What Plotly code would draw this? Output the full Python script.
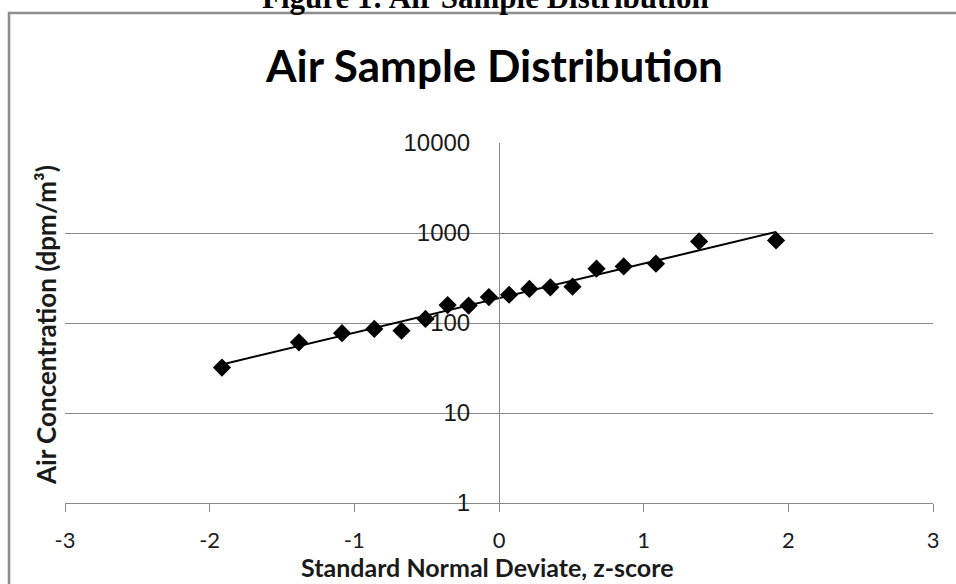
import numpy as np
import plotly.graph_objects as go

# ---- data ----
z_scores = [-1.915, -1.383, -1.085, -0.862, -0.674, -0.508, -0.355, -0.210, -0.070,
            0.070, 0.210, 0.355, 0.508, 0.674, 0.862, 1.085, 1.383, 1.915]
concentrations = [32, 61, 77, 86, 82, 111, 158, 156, 194,
                  206, 239, 249, 253, 401, 425, 456, 807, 827]
x_ticks = [-3, -2, -1, 0, 1, 2, 3]
x_tick_labels = ["-3", "-2", "-1", "0", "1", "2", "3"]
y_ticks = [1, 10, 100, 1000, 10000]
y_tick_labels = ["1", "10", "100", "1000", "10000"]

chart_title = "Air Sample Distribution"
figure_caption = "Figure 1: Air Sample Distribution"
x_title = "Standard Normal Deviate, z-score"
y_title = "Air Concentration (dpm/m³)"

# ---- exponential trendline (least squares in log space) ----
slope, intercept = np.polyfit(np.array(z_scores), np.log10(np.array(concentrations)), 1)
trend_x = np.linspace(min(z_scores), max(z_scores), 50)
trend_y = 10 ** (intercept + slope * trend_x)

W, H = 956, 584
ML, MR, MT, MB = 65, 23, 143, 81
PW, PH = W - ML - MR, H - MT - MB


def px(x):
    return (x - ML) / PW


def py(y):
    return (H - MB - y) / PH


GRID = "#898989"
TXT = "#1a1a1a"

fig = go.Figure()
fig.add_trace(go.Scatter(x=trend_x, y=trend_y, mode="lines",
                         line=dict(color="black", width=2), hoverinfo="skip",
                         showlegend=False))
fig.add_trace(go.Scatter(x=z_scores, y=concentrations, mode="markers",
                         marker=dict(symbol="diamond", size=14, color="black",
                                     line=dict(width=0)),
                         showlegend=False))

fig.update_layout(
    width=W, height=H,
    margin=dict(l=ML, r=MR, t=MT, b=MB),
    paper_bgcolor="white", plot_bgcolor="white",
    xaxis=dict(range=[-3, 3], tickvals=x_ticks, ticktext=x_tick_labels,
               showgrid=False, zeroline=False,
               showline=True, linecolor=GRID, linewidth=1,
               ticks="outside", ticklen=8, tickcolor=GRID, tickwidth=1,
               tickfont=dict(family="Lato", size=22, color=TXT),
               ticklabelstandoff=10, fixedrange=True),
    yaxis=dict(type="log", range=[0, 4], tickvals=y_ticks, ticktext=y_tick_labels,
               anchor="free", position=0.5,
               showgrid=True, gridcolor=GRID, gridwidth=1, zeroline=False,
               showline=True, linecolor=GRID, linewidth=1, ticks="",
               ticklabelstandoff=24,
               tickfont=dict(family="Liberation Sans", size=24, color=TXT),
               fixedrange=True),
    showlegend=False,
)

fig.add_shape(type="rect", xref="paper", yref="paper",
              x0=px(9), x1=px(975), y0=py(600), y1=py(13),
              line=dict(color="#8c8c8c", width=2.5), fillcolor="rgba(0,0,0,0)",
              layer="below")

fig.add_annotation(text="<b>" + figure_caption + "</b>", xref="paper", yref="paper",
                   x=px(485), y=py(-3), xanchor="center", yanchor="middle",
                   showarrow=False,
                   font=dict(family="Liberation Serif", size=31, color="black"))
fig.add_annotation(text="<b>" + chart_title + "</b>", xref="paper", yref="paper",
                   x=px(494), y=py(65), xanchor="center", yanchor="middle",
                   showarrow=False,
                   font=dict(family="Lato", size=44, color="black"))
fig.add_annotation(text="<b>" + x_title + "</b>", xref="paper", yref="paper",
                   x=px(487), y=py(567), xanchor="center", yanchor="middle",
                   showarrow=False,
                   font=dict(family="Lato", size=25, color=TXT))
fig.add_annotation(text="<b>" + y_title + "</b>", xref="paper", yref="paper",
                   x=px(46), y=py(325), xanchor="center", yanchor="middle",
                   textangle=-90, showarrow=False,
                   font=dict(family="Lato", size=26, color=TXT))

fig.write_html("out.html", config={"displayModeBar": False},
               post_script="document.body.style.margin='0';")
